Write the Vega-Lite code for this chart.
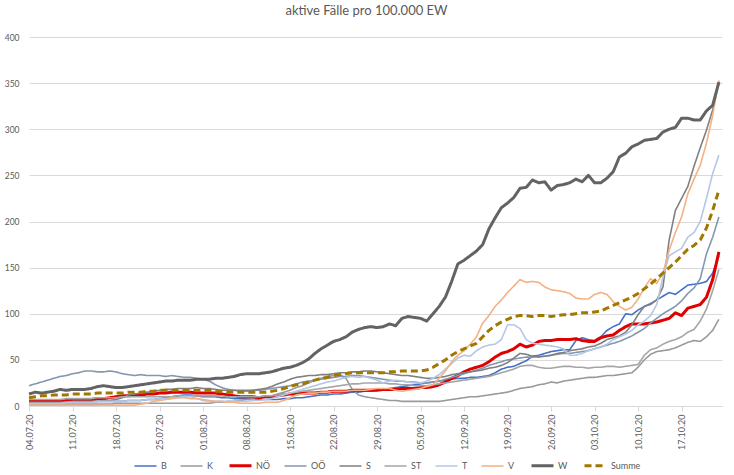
{
  "$schema": "https://vega.github.io/schema/vega-lite/v6.json",
  "width": 693,
  "height": 369,
  "autosize": {"type": "none"},
  "padding": {"left": 29, "top": 37, "right": 12, "bottom": 69},
  "background": "white",
  "title": {"text": "aktive Fälle pro 100.000 EW", "fontSize": 13, "font": "Lato", "fontWeight": "normal", "color": "#595959", "anchor": "middle", "offset": 15, "dx": -9},
  "config": {"view": {"stroke": null}, "font": "Lato"},
  "data": {"values": [
{"d":"2020-07-04","B":3,"K":2,"NÖ":6,"OÖ":22,"S":4,"ST":7,"T":3,"V":1,"W":13,"Summe":9},
{"d":"2020-07-05","B":3,"K":2,"NÖ":6,"OÖ":24,"S":4,"ST":7,"T":3,"V":1,"W":15,"Summe":10},
{"d":"2020-07-06","B":3,"K":2,"NÖ":6,"OÖ":26,"S":4,"ST":7,"T":3,"V":1,"W":14,"Summe":11},
{"d":"2020-07-07","B":3,"K":2,"NÖ":5,"OÖ":28,"S":4,"ST":7,"T":3,"V":1,"W":15,"Summe":11},
{"d":"2020-07-08","B":3,"K":2,"NÖ":5,"OÖ":30,"S":4,"ST":7,"T":3,"V":1,"W":16,"Summe":12},
{"d":"2020-07-09","B":4,"K":2,"NÖ":5,"OÖ":32,"S":4,"ST":7,"T":3,"V":1,"W":18,"Summe":12},
{"d":"2020-07-10","B":4,"K":2,"NÖ":6,"OÖ":33,"S":4,"ST":8,"T":4,"V":1,"W":17,"Summe":12},
{"d":"2020-07-11","B":4,"K":2,"NÖ":6,"OÖ":35,"S":5,"ST":8,"T":4,"V":1,"W":18,"Summe":13},
{"d":"2020-07-12","B":4,"K":2,"NÖ":6,"OÖ":36,"S":5,"ST":8,"T":4,"V":1,"W":18,"Summe":13},
{"d":"2020-07-13","B":4,"K":2,"NÖ":7,"OÖ":38,"S":5,"ST":8,"T":4,"V":1,"W":18,"Summe":13},
{"d":"2020-07-14","B":5,"K":2,"NÖ":7,"OÖ":38,"S":5,"ST":8,"T":4,"V":1,"W":19,"Summe":13},
{"d":"2020-07-15","B":5,"K":2,"NÖ":8,"OÖ":37,"S":5,"ST":9,"T":5,"V":1,"W":21,"Summe":14},
{"d":"2020-07-16","B":5,"K":2,"NÖ":8,"OÖ":37,"S":6,"ST":9,"T":5,"V":1,"W":22,"Summe":14},
{"d":"2020-07-17","B":5,"K":2,"NÖ":9,"OÖ":38,"S":6,"ST":9,"T":5,"V":1,"W":21,"Summe":14},
{"d":"2020-07-18","B":5,"K":3,"NÖ":10,"OÖ":37,"S":7,"ST":9,"T":5,"V":1,"W":20,"Summe":14},
{"d":"2020-07-19","B":5,"K":3,"NÖ":11,"OÖ":35,"S":9,"ST":10,"T":5,"V":1,"W":20,"Summe":14},
{"d":"2020-07-20","B":6,"K":3,"NÖ":11,"OÖ":34,"S":12,"ST":10,"T":6,"V":1,"W":21,"Summe":15},
{"d":"2020-07-21","B":6,"K":3,"NÖ":12,"OÖ":33,"S":13,"ST":10,"T":6,"V":1,"W":22,"Summe":15},
{"d":"2020-07-22","B":6,"K":3,"NÖ":12,"OÖ":34,"S":14,"ST":10,"T":6,"V":2,"W":23,"Summe":15},
{"d":"2020-07-23","B":7,"K":3,"NÖ":13,"OÖ":33,"S":15,"ST":10,"T":7,"V":3,"W":24,"Summe":16},
{"d":"2020-07-24","B":7,"K":3,"NÖ":13,"OÖ":33,"S":16,"ST":10,"T":7,"V":5,"W":25,"Summe":16},
{"d":"2020-07-25","B":8,"K":3,"NÖ":14,"OÖ":33,"S":17,"ST":10,"T":8,"V":6,"W":26,"Summe":17},
{"d":"2020-07-26","B":9,"K":3,"NÖ":14,"OÖ":32,"S":18,"ST":10,"T":8,"V":7,"W":27,"Summe":17},
{"d":"2020-07-27","B":10,"K":3,"NÖ":15,"OÖ":33,"S":18,"ST":10,"T":9,"V":8,"W":27,"Summe":17},
{"d":"2020-07-28","B":11,"K":3,"NÖ":15,"OÖ":32,"S":19,"ST":11,"T":9,"V":9,"W":28,"Summe":17},
{"d":"2020-07-29","B":12,"K":3,"NÖ":15,"OÖ":31,"S":19,"ST":11,"T":10,"V":9,"W":28,"Summe":17},
{"d":"2020-07-30","B":12,"K":3,"NÖ":15,"OÖ":31,"S":19,"ST":11,"T":10,"V":8,"W":28,"Summe":17},
{"d":"2020-07-31","B":11,"K":3,"NÖ":14,"OÖ":30,"S":20,"ST":11,"T":8,"V":8,"W":29,"Summe":17},
{"d":"2020-08-01","B":10,"K":3,"NÖ":14,"OÖ":29,"S":19,"ST":11,"T":6,"V":7,"W":29,"Summe":17},
{"d":"2020-08-02","B":10,"K":3,"NÖ":14,"OÖ":27,"S":19,"ST":11,"T":5,"V":6,"W":29,"Summe":17},
{"d":"2020-08-03","B":10,"K":4,"NÖ":14,"OÖ":23,"S":18,"ST":11,"T":5,"V":5,"W":30,"Summe":16},
{"d":"2020-08-04","B":9,"K":4,"NÖ":13,"OÖ":20,"S":17,"ST":11,"T":5,"V":5,"W":30,"Summe":16},
{"d":"2020-08-05","B":9,"K":5,"NÖ":12,"OÖ":18,"S":17,"ST":10,"T":5,"V":4,"W":31,"Summe":15},
{"d":"2020-08-06","B":8,"K":5,"NÖ":11,"OÖ":17,"S":17,"ST":10,"T":5,"V":4,"W":32,"Summe":15},
{"d":"2020-08-07","B":8,"K":6,"NÖ":10,"OÖ":16,"S":17,"ST":10,"T":5,"V":3,"W":34,"Summe":15},
{"d":"2020-08-08","B":8,"K":7,"NÖ":10,"OÖ":16,"S":17,"ST":10,"T":5,"V":3,"W":35,"Summe":15},
{"d":"2020-08-09","B":8,"K":8,"NÖ":10,"OÖ":17,"S":17,"ST":10,"T":6,"V":3,"W":35,"Summe":15},
{"d":"2020-08-10","B":7,"K":9,"NÖ":9,"OÖ":17,"S":18,"ST":10,"T":6,"V":3,"W":35,"Summe":15},
{"d":"2020-08-11","B":7,"K":10,"NÖ":10,"OÖ":18,"S":19,"ST":11,"T":7,"V":4,"W":36,"Summe":15},
{"d":"2020-08-12","B":7,"K":11,"NÖ":10,"OÖ":19,"S":21,"ST":11,"T":8,"V":4,"W":37,"Summe":16},
{"d":"2020-08-13","B":7,"K":13,"NÖ":11,"OÖ":20,"S":24,"ST":12,"T":10,"V":4,"W":39,"Summe":17},
{"d":"2020-08-14","B":8,"K":15,"NÖ":12,"OÖ":21,"S":26,"ST":13,"T":12,"V":6,"W":41,"Summe":19},
{"d":"2020-08-15","B":8,"K":17,"NÖ":13,"OÖ":22,"S":29,"ST":14,"T":14,"V":9,"W":42,"Summe":21},
{"d":"2020-08-16","B":9,"K":20,"NÖ":13,"OÖ":24,"S":31,"ST":15,"T":16,"V":12,"W":44,"Summe":23},
{"d":"2020-08-17","B":9,"K":22,"NÖ":14,"OÖ":26,"S":32,"ST":16,"T":18,"V":13,"W":47,"Summe":24},
{"d":"2020-08-18","B":10,"K":25,"NÖ":14,"OÖ":27,"S":33,"ST":17,"T":20,"V":14,"W":51,"Summe":26},
{"d":"2020-08-19","B":11,"K":28,"NÖ":14,"OÖ":28,"S":33,"ST":18,"T":22,"V":14,"W":57,"Summe":28},
{"d":"2020-08-20","B":12,"K":30,"NÖ":15,"OÖ":29,"S":34,"ST":19,"T":24,"V":15,"W":62,"Summe":30},
{"d":"2020-08-21","B":12,"K":32,"NÖ":15,"OÖ":30,"S":34,"ST":20,"T":26,"V":15,"W":66,"Summe":31},
{"d":"2020-08-22","B":13,"K":33,"NÖ":16,"OÖ":31,"S":35,"ST":21,"T":27,"V":16,"W":70,"Summe":33},
{"d":"2020-08-23","B":13,"K":34,"NÖ":16,"OÖ":32,"S":36,"ST":22,"T":29,"V":16,"W":72,"Summe":34},
{"d":"2020-08-24","B":14,"K":30,"NÖ":16,"OÖ":32,"S":36,"ST":23,"T":31,"V":16,"W":75,"Summe":35},
{"d":"2020-08-25","B":15,"K":18,"NÖ":17,"OÖ":33,"S":37,"ST":24,"T":32,"V":17,"W":80,"Summe":36},
{"d":"2020-08-26","B":15,"K":12,"NÖ":17,"OÖ":33,"S":37,"ST":24,"T":31,"V":17,"W":83,"Summe":36},
{"d":"2020-08-27","B":16,"K":10,"NÖ":17,"OÖ":32,"S":38,"ST":25,"T":32,"V":17,"W":85,"Summe":36},
{"d":"2020-08-28","B":16,"K":9,"NÖ":17,"OÖ":31,"S":38,"ST":25,"T":30,"V":18,"W":86,"Summe":36},
{"d":"2020-08-29","B":17,"K":8,"NÖ":17,"OÖ":30,"S":37,"ST":25,"T":28,"V":19,"W":85,"Summe":36},
{"d":"2020-08-30","B":18,"K":7,"NÖ":18,"OÖ":29,"S":36,"ST":25,"T":25,"V":19,"W":86,"Summe":36},
{"d":"2020-08-31","B":19,"K":6,"NÖ":18,"OÖ":28,"S":35,"ST":24,"T":27,"V":19,"W":89,"Summe":37},
{"d":"2020-09-01","B":20,"K":6,"NÖ":18,"OÖ":27,"S":34,"ST":24,"T":28,"V":17,"W":87,"Summe":37},
{"d":"2020-09-02","B":21,"K":5,"NÖ":19,"OÖ":27,"S":33,"ST":23,"T":27,"V":16,"W":95,"Summe":38},
{"d":"2020-09-03","B":22,"K":5,"NÖ":19,"OÖ":26,"S":33,"ST":23,"T":26,"V":17,"W":97,"Summe":38},
{"d":"2020-09-04","B":23,"K":5,"NÖ":19,"OÖ":26,"S":32,"ST":22,"T":25,"V":18,"W":96,"Summe":38},
{"d":"2020-09-05","B":24,"K":5,"NÖ":20,"OÖ":25,"S":31,"ST":22,"T":25,"V":19,"W":95,"Summe":38},
{"d":"2020-09-06","B":25,"K":5,"NÖ":20,"OÖ":25,"S":30,"ST":22,"T":27,"V":21,"W":92,"Summe":39},
{"d":"2020-09-07","B":26,"K":5,"NÖ":21,"OÖ":26,"S":30,"ST":23,"T":30,"V":23,"W":100,"Summe":42},
{"d":"2020-09-08","B":27,"K":5,"NÖ":23,"OÖ":27,"S":31,"ST":24,"T":34,"V":30,"W":108,"Summe":46},
{"d":"2020-09-09","B":28,"K":6,"NÖ":26,"OÖ":29,"S":32,"ST":25,"T":40,"V":38,"W":118,"Summe":50},
{"d":"2020-09-10","B":29,"K":7,"NÖ":30,"OÖ":31,"S":34,"ST":26,"T":46,"V":48,"W":135,"Summe":55},
{"d":"2020-09-11","B":30,"K":8,"NÖ":33,"OÖ":33,"S":35,"ST":27,"T":52,"V":55,"W":154,"Summe":59},
{"d":"2020-09-12","B":30,"K":9,"NÖ":37,"OÖ":35,"S":36,"ST":28,"T":55,"V":60,"W":158,"Summe":62},
{"d":"2020-09-13","B":31,"K":10,"NÖ":40,"OÖ":37,"S":37,"ST":29,"T":54,"V":67,"W":163,"Summe":65},
{"d":"2020-09-14","B":31,"K":10,"NÖ":42,"OÖ":39,"S":38,"ST":30,"T":60,"V":75,"W":168,"Summe":68},
{"d":"2020-09-15","B":32,"K":11,"NÖ":44,"OÖ":41,"S":39,"ST":31,"T":64,"V":90,"W":175,"Summe":75},
{"d":"2020-09-16","B":33,"K":12,"NÖ":48,"OÖ":44,"S":41,"ST":32,"T":66,"V":98,"W":192,"Summe":82},
{"d":"2020-09-17","B":36,"K":13,"NÖ":53,"OÖ":46,"S":42,"ST":34,"T":67,"V":108,"W":204,"Summe":87},
{"d":"2020-09-18","B":40,"K":14,"NÖ":57,"OÖ":48,"S":44,"ST":36,"T":72,"V":115,"W":215,"Summe":91},
{"d":"2020-09-19","B":42,"K":15,"NÖ":59,"OÖ":50,"S":47,"ST":38,"T":88,"V":123,"W":220,"Summe":94},
{"d":"2020-09-20","B":43,"K":17,"NÖ":62,"OÖ":51,"S":52,"ST":40,"T":88,"V":130,"W":226,"Summe":97},
{"d":"2020-09-21","B":46,"K":19,"NÖ":67,"OÖ":52,"S":57,"ST":43,"T":84,"V":137,"W":236,"Summe":98},
{"d":"2020-09-22","B":49,"K":20,"NÖ":64,"OÖ":53,"S":56,"ST":44,"T":72,"V":134,"W":237,"Summe":98},
{"d":"2020-09-23","B":54,"K":21,"NÖ":66,"OÖ":53,"S":54,"ST":44,"T":68,"V":135,"W":245,"Summe":97},
{"d":"2020-09-24","B":55,"K":23,"NÖ":70,"OÖ":54,"S":53,"ST":42,"T":67,"V":134,"W":242,"Summe":98},
{"d":"2020-09-25","B":57,"K":24,"NÖ":71,"OÖ":54,"S":54,"ST":41,"T":66,"V":129,"W":243,"Summe":98},
{"d":"2020-09-26","B":59,"K":26,"NÖ":71,"OÖ":55,"S":55,"ST":41,"T":65,"V":126,"W":234,"Summe":97},
{"d":"2020-09-27","B":60,"K":25,"NÖ":72,"OÖ":56,"S":57,"ST":42,"T":64,"V":125,"W":239,"Summe":98},
{"d":"2020-09-28","B":61,"K":27,"NÖ":72,"OÖ":57,"S":58,"ST":43,"T":62,"V":124,"W":240,"Summe":99},
{"d":"2020-09-29","B":61,"K":28,"NÖ":72,"OÖ":57,"S":60,"ST":43,"T":55,"V":122,"W":242,"Summe":99},
{"d":"2020-09-30","B":71,"K":29,"NÖ":73,"OÖ":58,"S":61,"ST":42,"T":55,"V":117,"W":246,"Summe":100},
{"d":"2020-10-01","B":74,"K":30,"NÖ":71,"OÖ":59,"S":62,"ST":42,"T":57,"V":116,"W":243,"Summe":101},
{"d":"2020-10-02","B":72,"K":31,"NÖ":70,"OÖ":60,"S":64,"ST":41,"T":60,"V":116,"W":250,"Summe":101},
{"d":"2020-10-03","B":71,"K":31,"NÖ":70,"OÖ":62,"S":65,"ST":42,"T":62,"V":121,"W":242,"Summe":102},
{"d":"2020-10-04","B":75,"K":32,"NÖ":74,"OÖ":64,"S":68,"ST":42,"T":64,"V":123,"W":242,"Summe":103},
{"d":"2020-10-05","B":82,"K":33,"NÖ":76,"OÖ":66,"S":72,"ST":43,"T":67,"V":121,"W":247,"Summe":106},
{"d":"2020-10-06","B":86,"K":33,"NÖ":77,"OÖ":68,"S":74,"ST":43,"T":72,"V":113,"W":254,"Summe":109},
{"d":"2020-10-07","B":89,"K":34,"NÖ":82,"OÖ":70,"S":76,"ST":42,"T":75,"V":108,"W":270,"Summe":112},
{"d":"2020-10-08","B":100,"K":35,"NÖ":86,"OÖ":73,"S":80,"ST":43,"T":78,"V":104,"W":274,"Summe":115},
{"d":"2020-10-09","B":99,"K":36,"NÖ":89,"OÖ":76,"S":88,"ST":44,"T":82,"V":107,"W":281,"Summe":118},
{"d":"2020-10-10","B":104,"K":42,"NÖ":89,"OÖ":80,"S":99,"ST":45,"T":88,"V":116,"W":284,"Summe":122},
{"d":"2020-10-11","B":108,"K":50,"NÖ":89,"OÖ":84,"S":108,"ST":55,"T":92,"V":128,"W":288,"Summe":127},
{"d":"2020-10-12","B":111,"K":56,"NÖ":90,"OÖ":90,"S":110,"ST":61,"T":98,"V":138,"W":289,"Summe":132},
{"d":"2020-10-13","B":115,"K":59,"NÖ":91,"OÖ":95,"S":115,"ST":63,"T":110,"V":133,"W":290,"Summe":138},
{"d":"2020-10-14","B":119,"K":60,"NÖ":93,"OÖ":100,"S":129,"ST":67,"T":140,"V":144,"W":297,"Summe":144},
{"d":"2020-10-15","B":123,"K":61,"NÖ":95,"OÖ":104,"S":180,"ST":70,"T":163,"V":169,"W":300,"Summe":150},
{"d":"2020-10-16","B":121,"K":63,"NÖ":101,"OÖ":108,"S":212,"ST":72,"T":167,"V":188,"W":302,"Summe":156},
{"d":"2020-10-17","B":126,"K":66,"NÖ":98,"OÖ":114,"S":225,"ST":75,"T":171,"V":205,"W":312,"Summe":163},
{"d":"2020-10-18","B":131,"K":69,"NÖ":106,"OÖ":122,"S":238,"ST":80,"T":183,"V":230,"W":312,"Summe":170},
{"d":"2020-10-19","B":132,"K":71,"NÖ":108,"OÖ":128,"S":260,"ST":83,"T":188,"V":246,"W":310,"Summe":174},
{"d":"2020-10-20","B":133,"K":70,"NÖ":110,"OÖ":138,"S":280,"ST":92,"T":200,"V":261,"W":310,"Summe":180},
{"d":"2020-10-21","B":135,"K":75,"NÖ":118,"OÖ":165,"S":299,"ST":105,"T":225,"V":285,"W":320,"Summe":193},
{"d":"2020-10-22","B":144,"K":82,"NÖ":137,"OÖ":183,"S":321,"ST":125,"T":252,"V":315,"W":326,"Summe":212},
{"d":"2020-10-23","B":163,"K":94,"NÖ":167,"OÖ":205,"S":352,"ST":148,"T":272,"V":353,"W":351,"Summe":234}
  ]},
  "transform": [{"fold": ["B","K","NÖ","OÖ","S","ST","T","V","W","Summe"], "as": ["Land","Wert"]}],
  "mark": {"type": "line", "strokeJoin": "round", "strokeCap": "butt"},
  "encoding": {
    "x": {
      "field": "d", "type": "temporal",
      "scale": {"type": "utc", "domain": [{"year":2020,"month":7,"date":4,"utc":true},{"year":2020,"month":10,"date":23,"hours":12,"utc":true}]},
      "axis": {
        "title": null, "format": "%d.%m.%y", "labelAngle": -90, "labelFontSize": 9, "labelColor": "#595959", "labelFont": "Lato",
        "grid": false, "domainColor": "#D9D9D9", "tickColor": "#D9D9D9", "tickSize": 5, "labelPadding": 3,
        "values": [
          {"year":2020,"month":7,"date":4,"utc":true},{"year":2020,"month":7,"date":11,"utc":true},{"year":2020,"month":7,"date":18,"utc":true},{"year":2020,"month":7,"date":25,"utc":true},
          {"year":2020,"month":8,"date":1,"utc":true},{"year":2020,"month":8,"date":8,"utc":true},{"year":2020,"month":8,"date":15,"utc":true},{"year":2020,"month":8,"date":22,"utc":true},
          {"year":2020,"month":8,"date":29,"utc":true},{"year":2020,"month":9,"date":5,"utc":true},{"year":2020,"month":9,"date":12,"utc":true},{"year":2020,"month":9,"date":19,"utc":true},
          {"year":2020,"month":9,"date":26,"utc":true},{"year":2020,"month":10,"date":3,"utc":true},{"year":2020,"month":10,"date":10,"utc":true},{"year":2020,"month":10,"date":17,"utc":true}
        ]
      }
    },
    "y": {
      "field": "Wert", "type": "quantitative",
      "scale": {"domain": [0, 400], "nice": false},
      "axis": {"title": null, "values": [0,50,100,150,200,250,300,350,400], "grid": true, "gridColor": "#D9D9D9", "domain": false, "ticks": false, "labelPadding": 10, "labelFontSize": 8.5, "labelColor": "#595959", "labelFont": "Lato"}
    },
    "color": {
      "field": "Land", "type": "nominal",
      "scale": {"domain": ["B","K","NÖ","OÖ","S","ST","T","V","W","Summe"], "range": ["#4472C4","#9A9A9A","#E00000","#8497B0","#808080","#A5A5A5","#B4C7E7","#F4B183","#636363","#A07800"]},
      "legend": {"orient": "none", "legendX": 104, "legendY": 416, "direction": "horizontal", "columns": 10, "title": null, "symbolType": "stroke", "symbolSize": 484, "labelFontSize": 9, "labelColor": "#595959", "labelFont": "Lato", "columnPadding": 10, "labelOffset": 3}
    },
    "strokeWidth": {
      "field": "Land", "type": "nominal",
      "scale": {"type": "ordinal", "domain": ["B","K","NÖ","OÖ","S","ST","T","V","W","Summe"], "range": [1.6,1.6,3,1.6,1.6,1.6,1.6,1.6,3,3]}
    },
    "strokeDash": {
      "field": "Land", "type": "nominal",
      "scale": {"domain": ["B","K","NÖ","OÖ","S","ST","T","V","W","Summe"], "range": [[1,0],[1,0],[1,0],[1,0],[1,0],[1,0],[1,0],[1,0],[1,0],[7,4]]}
    }
  }
}
